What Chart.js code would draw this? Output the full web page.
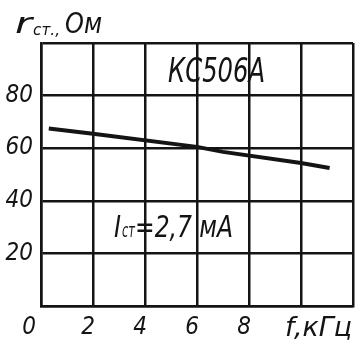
<!DOCTYPE html>
<html>
<head>
<meta charset="utf-8">
<script src="https://cdn.jsdelivr.net/npm/chart.js@4"></script>
<style>
  html, body { margin: 0; padding: 0; background: #fff; }
  #wrap { width: 360px; height: 350px; }
</style>
</head>
<body>
<div id="wrap"><canvas id="chart"></canvas></div>
<script>
// values
const freq = [0.3, 2, 6, 7, 10, 11.1];
const resistance = [67.5, 65.5, 60.5, 58.6, 54.4, 52.5];
const xTickLabels = [0, 2, 4, 6, 8];
const yTickLabels = [20, 40, 60, 80];
const deviceName = 'КС506А';
const currentNote = ['I', 'ст', '=2,7 мА'];
const yUnit = ['r', 'ст.,', 'Ом'];
const xUnit = 'f,кГц';

const FONT = "'Liberation Sans Narrow', 'DejaVu Sans Condensed', 'Liberation Sans', sans-serif";
const INK = '#141414';

// draw italic text squeezed to a given width
function putText(ctx, str, x, baseline, size, width) {
  ctx.save();
  ctx.font = `italic ${size}px ${FONT}`;
  ctx.fillStyle = INK;
  ctx.textBaseline = 'alphabetic';
  ctx.textAlign = 'left';
  const w = ctx.measureText(str).width;
  const k = width ? width / w : 1;
  ctx.translate(x, baseline);
  ctx.scale(k, 1);
  ctx.fillText(str, 0, 0);
  ctx.restore();
}

const labelsPlugin = {
  id: 'labelsPlugin',
  afterDraw(chart) {
    const ctx = chart.ctx;
    putText(ctx, yUnit[0], 15, 33, 28, 17);
    putText(ctx, yUnit[1], 33, 35, 15, 27);
    putText(ctx, yUnit[2], 65, 33, 28, 37);
    putText(ctx, deviceName, 168, 82, 34, 97);
    putText(ctx, currentNote[0], 114, 237, 30, 7);
    putText(ctx, currentNote[1], 122, 237, 20, 13);
    putText(ctx, currentNote[2], 135, 237, 30, 98);
    putText(ctx, xUnit, 285, 336, 27, 67);
  }
};

new Chart(document.getElementById('chart'), {
  type: 'line',
  data: {
    datasets: [{
      data: freq.map((f, i) => ({ x: f, y: resistance[i] })),
      borderColor: INK,
      borderWidth: 4,
      pointRadius: 0,
      tension: 0,
      fill: false
    }]
  },
  options: {
    responsive: true,
    maintainAspectRatio: false,
    animation: false,
    layout: { padding: { top: 43, right: 7, left: 0, bottom: 0 } },
    plugins: { legend: { display: false }, tooltip: { enabled: false } },
    scales: {
      x: {
        type: 'linear',
        min: 0,
        max: 12,
        afterFit: (s) => { s.height = 44; },
        border: { display: true, color: INK, width: 2.5 },
        grid: { color: INK, lineWidth: 2.5, drawTicks: false },
        ticks: {
          stepSize: 2,
          padding: 7,
          labelOffset: -5,
          maxRotation: 0,
          autoSkip: false,
          color: INK,
          font: { family: FONT, size: 24, style: 'italic' },
          callback: (v) => xTickLabels.includes(v) ? (v === 0 ? '0  ' : String(v)) : ''
        }
      },
      y: {
        min: 0,
        max: 100,
        afterFit: (s) => { s.width = 41; },
        border: { display: true, color: INK, width: 2.5 },
        grid: { color: INK, lineWidth: 2.5, drawTicks: false },
        ticks: {
          stepSize: 20,
          padding: 8,
          color: INK,
          font: { family: FONT, size: 24, style: 'italic' },
          callback: (v) => yTickLabels.includes(v) ? String(v) : ''
        }
      }
    }
  },
  plugins: [labelsPlugin]
});
</script>
</body>
</html>
